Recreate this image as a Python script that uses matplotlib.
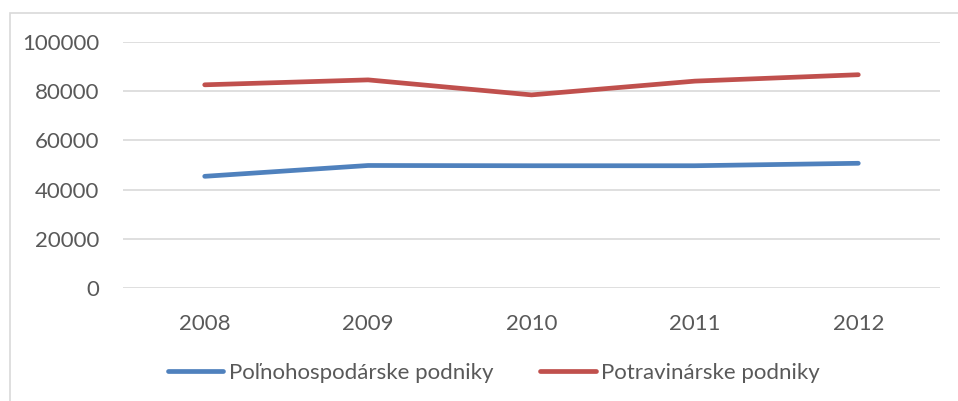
import matplotlib
matplotlib.use("Agg")
import matplotlib.pyplot as plt
from matplotlib.patches import Rectangle

years = ["2008", "2009", "2010", "2011", "2012"]
polnohospodarske = [45400, 49800, 49700, 49700, 50700]
potravinarske = [82600, 84600, 78500, 84100, 86700]
series_names = ["Poľnohospodárske podniky", "Potravinárske podniky"]
y_ticks = [0, 20000, 40000, 60000, 80000, 100000]

W, H = 958, 401
fig = plt.figure(figsize=(W / 100, H / 100), dpi=100)
plt.rcParams["font.family"] = ["Lato", "DejaVu Sans"]

# chart frame
fig.patches.append(Rectangle((10 / W, -0.1), 1.2, (H - 13) / H + 0.1,
                             transform=fig.transFigure, fill=False,
                             edgecolor="#D9D9D9", linewidth=1.2))

ax = fig.add_axes([123 / W, 1 - 288 / H, (940 - 123) / W, (288 - 42) / H])
x = range(len(years))
blue, red = "#4F81BD", "#C0504D"
ax.plot(x, polnohospodarske, color=blue, linewidth=3.4, solid_capstyle="round",
        label=series_names[0])
ax.plot(x, potravinarske, color=red, linewidth=3.4, solid_capstyle="round",
        label=series_names[1])

ax.set_xlim(-0.5, len(years) - 0.5)
ax.set_ylim(0, 100000)
ax.set_yticks(y_ticks)
ax.set_yticklabels([str(v) for v in y_ticks])
ax.set_xticks(list(x))
ax.set_xticklabels(years)
ax.yaxis.grid(True, color="#D9D9D9", linewidth=1.2)
ax.set_axisbelow(True)
for s in ax.spines.values():
    s.set_visible(False)
ax.tick_params(length=0, labelsize=16, colors="#595959")
ax.tick_params(axis="x", pad=19)
ax.tick_params(axis="y", pad=17)

leg = fig.legend(loc="center", bbox_to_anchor=(494 / W, 1 - 373 / H), ncol=2,
                 frameon=False, fontsize=16, handlelength=2.5, handletextpad=0.25,
                 columnspacing=2.1)
for t in leg.get_texts():
    t.set_color("#595959")

fig.savefig("out.png", dpi=100)
